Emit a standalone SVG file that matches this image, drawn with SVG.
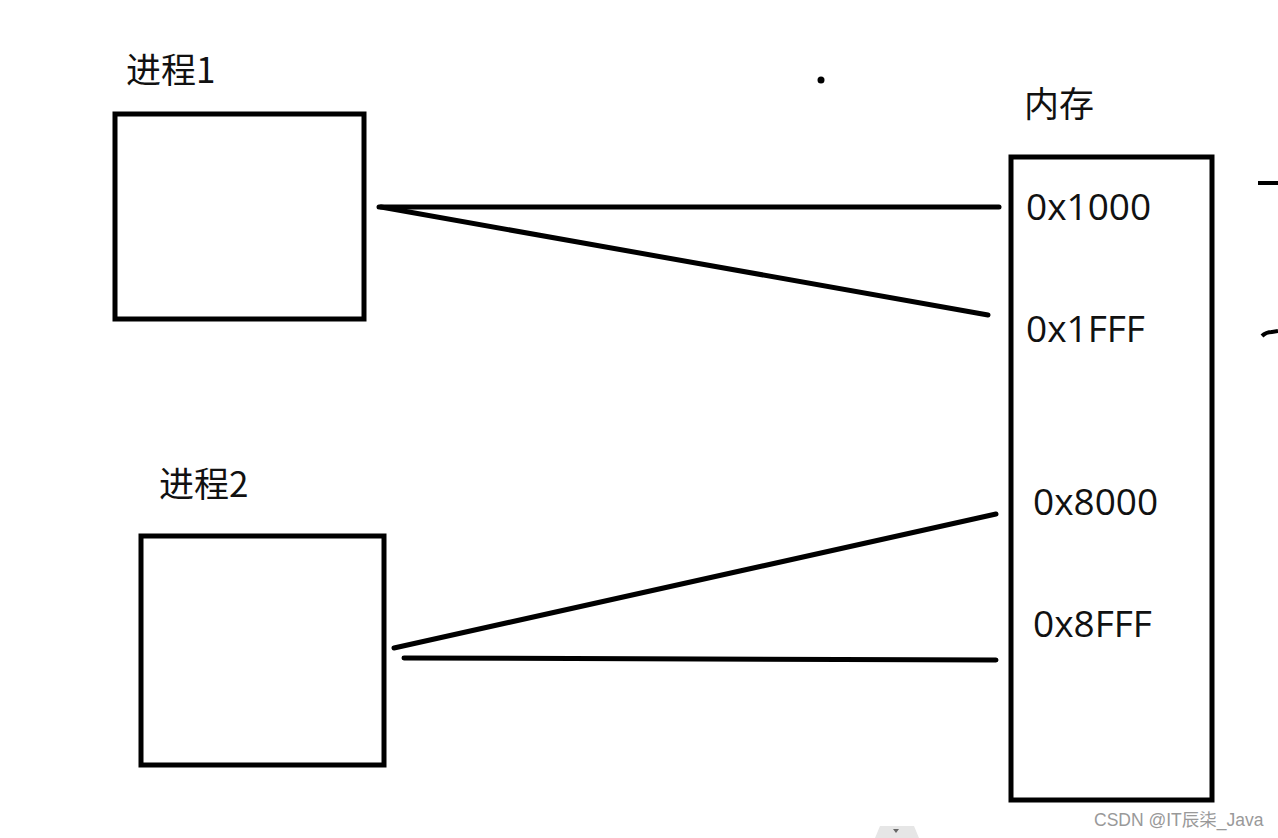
<svg xmlns="http://www.w3.org/2000/svg" width="1278" height="838" viewBox="0 0 1278 838">
<style>
.box{fill:#fff;stroke:#000;stroke-width:5}
.ln{stroke:#000;stroke-width:5;stroke-linecap:round;fill:none}
.lbl{font-family:"Noto Sans CJK SC","Noto Sans",sans-serif;font-size:35px;fill:#111}
.addr{font-family:"Open Sans","Noto Sans",sans-serif;font-size:37px;fill:#111}
.wm{font-family:"Liberation Sans","Noto Sans CJK SC",sans-serif;font-size:17.5px;fill:#999}
</style>
<rect width="1278" height="838" fill="#fff"/>
<g id="connectors">
<line class="ln" x1="379" y1="207" x2="999" y2="207"/>
<line class="ln" x1="381" y1="207" x2="988" y2="315"/>
<line class="ln" x1="394" y1="648" x2="996" y2="514"/>
<line class="ln" x1="404" y1="658" x2="996" y2="660"/>
</g>
<g id="process1">
<rect class="box" x="115" y="114" width="249" height="205"/>
<text class="lbl" x="126" y="83">进程1</text>
</g>
<g id="process2">
<rect class="box" x="141" y="536" width="243" height="229"/>
<text class="lbl" x="159" y="497">进程2</text>
</g>
<g id="memory">
<rect class="box" x="1011" y="157" width="201" height="643"/>
<text class="lbl" x="1024" y="117">内存</text>
<text class="addr" x="1026" y="220">0x1000</text>
<text class="addr" x="1026" y="342">0x1FFF</text>
<text class="addr" x="1033" y="515">0x8000</text>
<text class="addr" x="1033" y="637">0x8FFF</text>
</g>
<circle cx="821" cy="80" r="3.5" fill="#000"/>
<line x1="1258" y1="183" x2="1278" y2="183" stroke="#000" stroke-width="4"/>
<path d="M1262,336 Q1266,332 1272,332 L1278,331" stroke="#000" stroke-width="4" fill="none"/>
<path d="M875,838 L880,826 L914,826 L919,838 Z" fill="#e6e6e6"/>
<path d="M893,829 L899,829 L896,833 Z" fill="#666"/>
<text class="wm" x="1094" y="826">CSDN @IT辰柒_Java</text>
</svg>
